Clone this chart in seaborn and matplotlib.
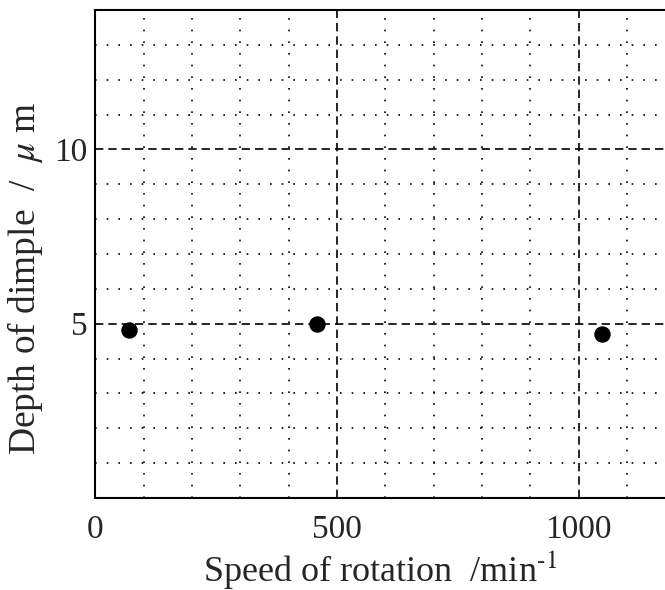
import matplotlib
matplotlib.use('Agg')
import matplotlib.pyplot as plt
from matplotlib.ticker import MultipleLocator
import seaborn as sns
import pandas as pd

# data
speed = [70, 458, 1048]          # rotation speed (min^-1)
depth = [4.83, 5.0, 4.71]        # depth of dimple (um)
x_ticks = [0, 500, 1000]
y_ticks = [5, 10]

df = pd.DataFrame({'speed': speed, 'depth': depth})

sns.set_style('white')
plt.rcParams['font.family'] = ['Liberation Serif', 'DejaVu Serif']
plt.rcParams['mathtext.fontset'] = 'stix'

fig = plt.figure(figsize=(6.65, 5.9), dpi=100)
ax = fig.add_axes([0.1436, 0.156, 0.8564, 0.827])

sns.scatterplot(data=df, x='speed', y='depth', color='black', s=140,
                edgecolor='black', linewidth=0, ax=ax, zorder=5)

ax.set_xlim(0, 1179)
ax.set_ylim(0, 14)
ax.set_xticks(x_ticks)
ax.set_yticks(y_ticks)
ax.xaxis.set_minor_locator(MultipleLocator(100))
ax.yaxis.set_minor_locator(MultipleLocator(1))

ax.grid(which='major', color='black', linestyle=(0, (5, 3)), linewidth=1.2)
ax.grid(which='minor', color='black', linestyle=(0, (1, 6)), linewidth=1.2)
ax.set_axisbelow(True)

ax.tick_params(which='both', length=0, labelsize=24)
ax.tick_params(axis='x', pad=12)
ax.tick_params(axis='y', pad=6)

for s in ['left', 'bottom', 'top']:
    ax.spines[s].set_color('black')
    ax.spines[s].set_linewidth(1.5)
ax.spines['right'].set_visible(False)

ax.set_xlabel('Speed of rotation  /min$^{\\text{-}1}$', fontsize=26, labelpad=2)
ax.set_ylabel('Depth of dimple  /  $\\mu$ m', fontsize=27)
ax.yaxis.set_label_coords(-0.088, 0.451)

fig.savefig('out.png', dpi=100)
